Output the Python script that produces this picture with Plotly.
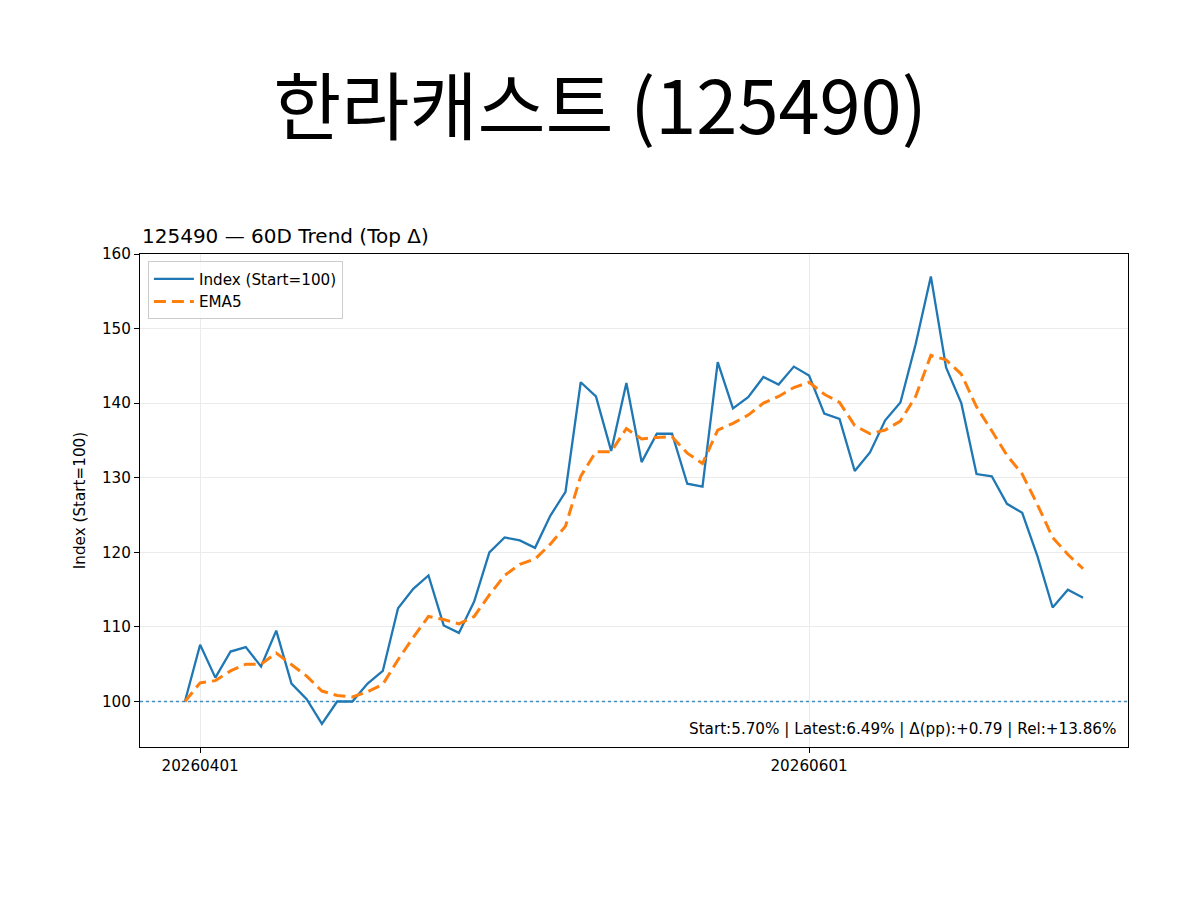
import pandas as pd
import plotly.graph_objects as go

# trading days (KRX holidays skipped)
holidays = ['2026-05-01', '2026-05-05', '2026-05-25', '2026-06-03']
days = pd.bdate_range('2026-03-31', '2026-06-30')
days = [d for d in days if d.strftime('%Y-%m-%d') not in holidays][:60]
dates = [d.strftime('%Y%m%d') for d in days]

index_vals = [
    100.0, 107.6, 103.2, 106.7, 107.3, 104.7, 109.5, 102.4, 100.3, 97.0,
    100.0, 100.0, 102.4, 104.1, 112.5, 115.1, 116.9, 110.2, 109.2, 113.4,
    120.0, 122.0, 121.6, 120.6, 124.9, 128.1, 142.8, 140.9, 133.6, 142.7,
    132.1, 135.9, 135.9, 129.2, 128.8, 145.5, 139.3, 140.8, 143.5, 142.5,
    144.9, 143.7, 138.6, 137.9, 130.9, 133.4, 137.7, 140.1, 147.9, 157.0,
    144.8, 140.0, 130.5, 130.2, 126.5, 125.3, 119.5, 112.6, 115.0, 113.9,
]
ema5_vals = [
    100.0, 102.5, 102.8, 104.1, 105.0, 105.0, 106.5, 104.9, 103.4, 101.4,
    100.8, 100.6, 101.3, 102.3, 105.6, 108.6, 111.4, 111.0, 110.4, 111.4,
    114.3, 116.9, 118.4, 119.1, 121.1, 123.5, 130.2, 133.5, 133.5, 136.6,
    135.2, 135.4, 135.5, 133.3, 131.9, 136.4, 137.3, 138.4, 140.0, 140.9,
    142.1, 142.8, 141.2, 140.1, 137.0, 135.9, 136.4, 137.6, 140.9, 146.4,
    145.8, 143.9, 139.5, 136.3, 133.0, 130.5, 126.4, 122.0, 119.7, 117.8,
]
tick_dates = ['20260401', '20260601']
y_ticks = [100, 110, 120, 130, 140, 150, 160]

title_text = '한라캐스트 (125490)'
subtitle = '125490 — 60D Trend (Top Δ)'
stats_text = 'Start:5.70% | Latest:6.49% | Δ(pp):+0.79 | Rel:+13.86%'

base_font = 'DejaVu Sans'
fs = 15.2

fig = go.Figure()
fig.add_trace(go.Scatter(
    x=dates, y=index_vals, mode='lines', name='Index (Start=100)',
    line=dict(color='#1f77b4', width=2.3),
))
fig.add_trace(go.Scatter(
    x=dates, y=ema5_vals, mode='lines', name='EMA5',
    line=dict(color='#ff7f0e', width=3, dash='12px,6px'),
))

# baseline at 100
fig.add_shape(type='line', xref='paper', yref='y', x0=0, x1=1, y0=100, y1=100,
              line=dict(color='#1f77b4', width=1.3, dash='dot'), opacity=0.8,
              layer='above')

fig.add_annotation(
    text=stats_text, xref='paper', yref='paper', x=0.99, y=0.015,
    xanchor='right', yanchor='bottom', showarrow=False,
    font=dict(family=base_font, size=fs, color='black'),
)

# page has an 8px body margin, so the figure is a bit smaller than the window
fig.update_layout(
    width=1184, height=884,
    paper_bgcolor='white', plot_bgcolor='white',
    margin=dict(l=132, r=64, t=246, b=145),
    font=dict(family=base_font, size=fs, color='black'),
    title=dict(
        text=title_text, x=0.5, xanchor='center', y=0.8865, yanchor='middle',
        font=dict(family='Noto Sans CJK KR', size=74, color='black'),
    ),
    legend=dict(
        x=0.008, y=0.985, xanchor='left', yanchor='top',
        bgcolor='rgba(255,255,255,0.8)', bordercolor='#cccccc', borderwidth=1,
        font=dict(family=base_font, size=fs), tracegroupgap=0, itemwidth=40,
    ),
    showlegend=True,
)

fig.add_annotation(
    text=subtitle, xref='paper', yref='paper', x=0, y=1.0,
    xanchor='left', yanchor='bottom', yshift=4, showarrow=False,
    font=dict(family=base_font, size=20, color='black'),
)

fig.update_xaxes(
    type='category', range=[-2.95, 61.95],
    tickmode='array', tickvals=tick_dates, ticktext=tick_dates,
    showgrid=True, gridcolor='#ebebeb', gridwidth=1,
    showline=True, linecolor='black', linewidth=1, mirror=True,
    ticks='outside', ticklen=5, tickcolor='black', zeroline=False,
)
fig.update_yaxes(
    range=[93.9, 160.0], tickmode='array', tickvals=y_ticks,
    showgrid=True, gridcolor='#ebebeb', gridwidth=1,
    showline=True, linecolor='black', linewidth=1, mirror=True,
    ticks='outside', ticklen=5, tickcolor='black', zeroline=False,
    title=dict(text='Index (Start=100)', standoff=12,
               font=dict(family=base_font, size=fs)),
)

fig.write_html('out.html')
